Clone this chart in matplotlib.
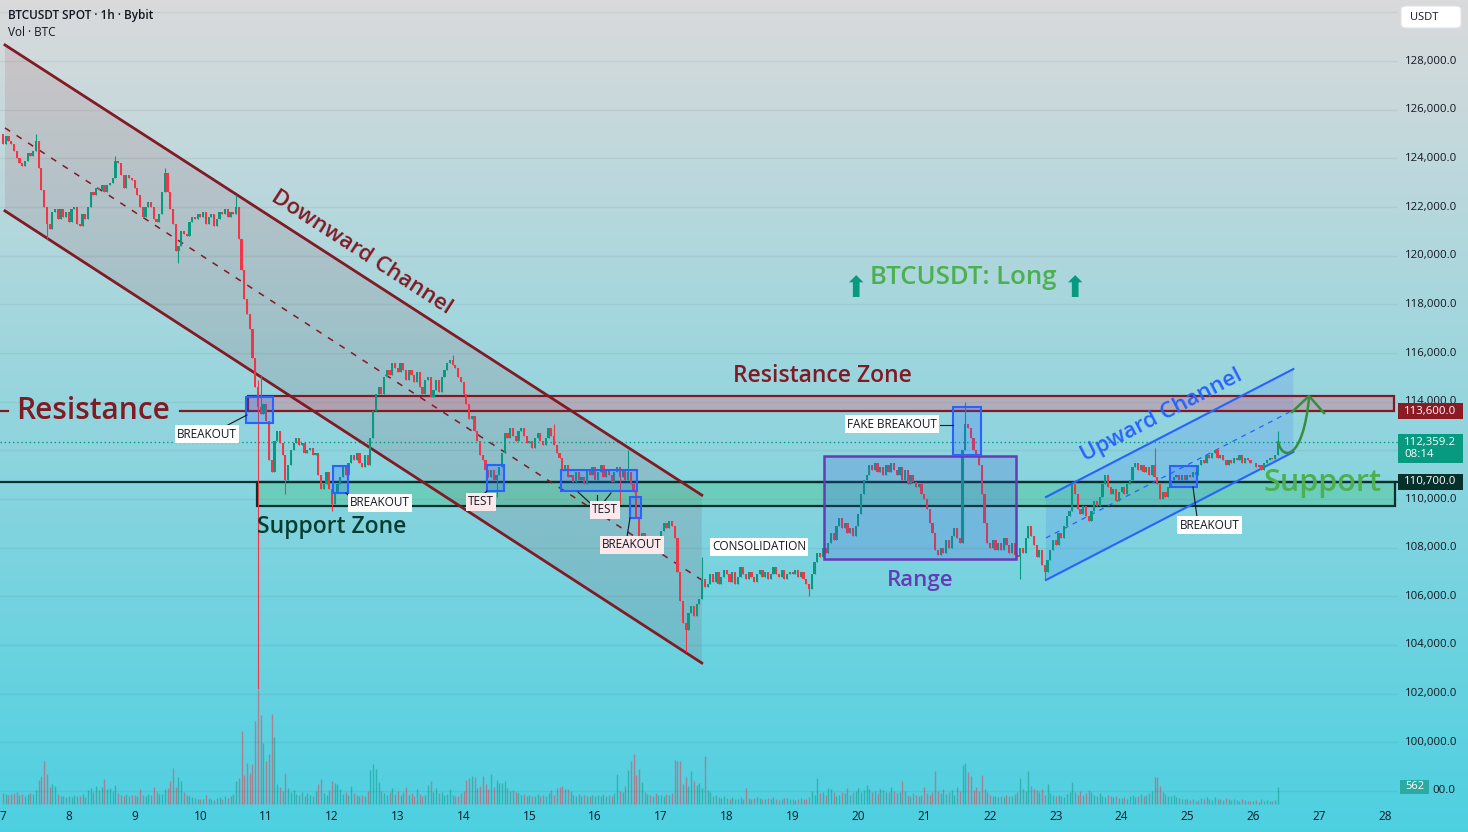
import numpy as np
import matplotlib.pyplot as plt
import matplotlib.transforms as mtransforms
from matplotlib.patches import Rectangle, Polygon, PathPatch, FancyBboxPatch
from matplotlib.path import Path

plt.rcParams['font.family'] = ['Open Sans', 'DejaVu Sans']

# hourly closes (thousands USDT), one list per day, Aug 7 .. Aug 26
first_open = 125.0
aug07 = [124.6, 124.9, 124.7, 124.6, 124.3, 124.0, 123.8, 123.7, 123.9, 124.2, 124.1, 124.3,
         124.7, 123.6, 122.7, 122.0, 121.3, 121.1, 121.8, 121.9, 121.5, 121.9, 121.6, 121.8]
aug08 = [121.4, 121.9, 122.0, 121.3, 121.2, 121.7, 121.5, 122.0, 122.6, 122.5, 122.8, 122.7,
         122.9, 122.6, 122.9, 123.0, 123.2, 123.9, 123.8, 123.3, 122.8, 123.3, 123.2, 123.1]
aug09 = [122.8, 122.5, 122.0, 121.6, 122.0, 122.2, 122.0, 121.5, 121.4, 121.7, 122.6, 123.4,
         122.6, 121.9, 121.3, 120.2, 120.4, 121.0, 120.9, 120.8, 121.4, 121.6, 121.5, 121.7]
aug10 = [121.6, 121.8, 121.3, 121.6, 121.7, 121.2, 121.5, 121.8, 121.7, 121.9, 121.6, 121.8,
         121.7, 122.0, 120.7, 119.4, 118.2, 117.6, 117.0, 115.8, 114.6, 113.8, 113.5, 113.9]
aug11 = [113.2, 111.6, 111.1, 112.4, 112.8, 112.3, 111.8, 110.8, 111.4, 112.0, 112.3, 112.5,
         112.2, 112.3, 111.9, 112.0, 112.1, 111.8, 111.9, 111.0, 110.4, 110.6, 111.1, 110.4]
aug12 = [109.8, 110.3, 110.6, 110.9, 111.3, 111.0, 111.5, 111.8, 111.6, 111.9, 111.5, 111.3,
         111.8, 111.4, 112.5, 113.6, 114.3, 114.6, 114.3, 115.0, 115.3, 115.1, 115.6, 115.4]
aug13 = [115.2, 115.6, 115.3, 114.9, 115.3, 115.1, 114.8, 115.2, 114.6, 114.3, 114.9, 115.0,
         114.2, 114.5, 114.9, 114.4, 115.0, 115.3, 115.6, 115.7, 115.5, 115.4, 115.0, 114.8]
aug14 = [114.3, 113.9, 113.3, 113.4, 112.8, 112.4, 111.8, 111.6, 111.2, 110.9, 111.2, 110.8,
         111.0, 111.3, 111.9, 112.7, 112.5, 112.9, 112.6, 112.4, 112.8, 112.9, 112.6, 112.3]
aug15 = [112.4, 112.1, 112.5, 112.7, 112.4, 112.2, 112.5, 112.9, 112.6, 112.2, 111.9, 111.7,
         111.2, 111.4, 110.9, 111.0, 110.7, 111.1, 110.8, 110.9, 110.6, 111.2, 111.0, 111.3]
aug16 = [110.8, 111.1, 111.4, 110.9, 111.2, 111.0, 110.7, 111.1, 111.3, 110.9, 111.2, 110.8,
         111.1, 110.6, 110.3, 109.2, 108.4, 108.6, 108.1, 108.3, 107.9, 108.2, 108.0, 108.4]
aug17 = [108.7, 109.0, 108.8, 109.1, 108.9, 108.4, 107.0, 105.8, 104.9, 104.6, 105.3, 105.6,
         105.2, 105.7, 105.9, 106.7, 106.4, 106.5, 106.9, 106.6, 107.0, 106.5, 106.8, 107.1]
aug18 = [106.9, 106.6, 107.0, 106.5, 106.8, 107.2, 106.9, 106.7, 107.0, 106.8, 106.6, 106.9,
         107.1, 106.8, 107.0, 106.7, 106.9, 107.2, 106.9, 106.8, 107.1, 106.7, 106.9, 107.0]
aug19 = [106.9, 107.1, 106.8, 107.0, 106.7, 106.5, 106.3, 106.9, 107.4, 107.8, 107.6, 108.0,
         107.8, 108.2, 108.6, 108.3, 108.9, 109.2, 108.8, 109.0, 108.6, 108.8, 108.5, 108.9]
aug20 = [109.4, 110.2, 110.8, 111.0, 111.4, 111.2, 111.5, 111.1, 111.3, 111.0, 111.4, 111.1,
         111.5, 111.2, 111.0, 111.3, 110.8, 111.2, 110.6, 111.0, 110.7, 110.5, 110.6, 110.2]
aug21 = [110.0, 109.6, 109.0, 108.6, 107.9, 107.7, 108.0, 107.8, 108.3, 108.0, 108.5, 108.8,
         108.4, 108.2, 112.0, 113.1, 112.9, 112.5, 112.0, 111.8, 111.4, 110.2, 109.0, 108.2]
aug22 = [108.0, 108.3, 107.9, 108.2, 107.9, 108.4, 108.1, 107.8, 108.2, 107.7, 107.6, 108.0,
         107.8, 108.4, 108.9, 108.5, 108.1, 107.6, 107.9, 107.3, 107.0, 107.5, 107.9, 108.3]
aug23 = [108.1, 108.6, 108.4, 108.9, 109.3, 109.5, 110.6, 110.2, 109.6, 109.4, 109.7, 109.3,
         109.1, 109.5, 109.9, 109.7, 110.1, 110.6, 111.0, 110.5, 110.2, 110.4, 109.9, 110.3]
aug24 = [110.5, 110.2, 110.6, 110.8, 111.3, 111.5, 111.2, 111.4, 111.1, 111.3, 111.0, 111.4,
         110.9, 110.6, 110.0, 110.3, 110.1, 110.5, 110.8, 110.9, 111.0, 110.8, 111.0, 110.8]
aug25 = [111.0, 110.9, 111.1, 111.0, 111.4, 111.6, 111.5, 111.8, 111.7, 111.9, 112.0, 111.7,
         111.8, 111.6, 111.4, 111.6, 111.5, 111.7, 111.6, 111.8, 111.5, 111.7, 111.6, 111.5]
aug26 = [111.5, 111.3, 111.4, 111.2, 111.5, 111.6, 111.7, 111.65, 111.8, 112.3592]

# notable wicks (candle index -> thousands USDT)
wick_hi = {12: 125.0, 41: 124.1, 59: 123.6, 85: 122.5, 93: 114.9, 94: 115.1, 164: 115.9,
           201: 113.1, 228: 112.0, 255: 107.6, 351: 114.0, 420: 112.1, 465: 112.8}
wick_lo = {16: 120.7, 64: 119.7, 93: 102.2, 103: 110.2, 120: 109.5, 176: 110.3, 180: 110.1,
           225: 109.8, 249: 103.7, 294: 106.0, 371: 106.7, 380: 106.7}

# hourly volume (BTC)
vol07 = [360, 340, 300, 330, 350, 380, 300, 320, 280, 340, 360, 330, 450, 790, 920, 1420, 990, 570, 660, 600, 320, 250, 280, 230]
vol08 = [260, 220, 300, 250, 280, 330, 240, 450, 520, 380, 600, 470, 560, 820, 480, 520, 430, 630, 360, 300, 280, 320, 260, 300]
vol09 = [300, 280, 500, 310, 270, 330, 300, 560, 380, 320, 340, 480, 520, 760, 1180, 560, 880, 770, 400, 300, 260, 230, 200, 180]
vol10 = [180, 150, 300, 200, 160, 140, 190, 230, 170, 250, 210, 260, 330, 770, 850, 2400, 960, 1360, 1020, 1320, 2740, 3760, 2940, 2000]
vol11 = [1430, 1650, 2970, 2200, 660, 570, 420, 1010, 520, 380, 450, 330, 300, 410, 280, 350, 300, 260, 420, 650, 830, 370, 300, 450]
vol12 = [760, 700, 650, 480, 330, 380, 300, 600, 350, 290, 260, 310, 280, 420, 1130, 1320, 1160, 730, 420, 350, 300, 380, 520, 330]
vol13 = [420, 310, 380, 560, 300, 350, 280, 500, 330, 260, 300, 630, 760, 400, 520, 350, 380, 300, 330, 480, 300, 250, 280, 360]
vol14 = [420, 800, 850, 920, 880, 520, 600, 920, 650, 480, 990, 550, 800, 700, 680, 750, 520, 430, 460, 380, 350, 300, 330, 280]
vol15 = [300, 250, 280, 330, 260, 300, 280, 350, 450, 300, 520, 560, 600, 480, 500, 420, 300, 260, 330, 280, 300, 250, 260, 300]
vol16 = [280, 300, 250, 320, 260, 300, 280, 350, 990, 420, 380, 600, 1130, 1420, 1650, 950, 1160, 720, 400, 330, 300, 280, 350, 300]
vol17 = [300, 280, 330, 300, 350, 1450, 1430, 1420, 660, 880, 600, 1090, 750, 620, 700, 520, 1600, 450, 380, 250, 300, 230, 200, 260]
vol18 = [200, 180, 230, 150, 170, 220, 180, 540, 200, 160, 190, 230, 210, 170, 150, 200, 180, 220, 160, 140, 170, 210, 190, 150]
vol19 = [160, 140, 180, 200, 150, 170, 230, 430, 300, 860, 350, 400, 300, 520, 500, 380, 260, 300, 400, 350, 520, 300, 380, 430]
vol20 = [520, 400, 450, 620, 480, 380, 420, 350, 500, 450, 380, 400, 560, 430, 350, 400, 760, 420, 300, 280, 350, 300, 260, 300]
vol21 = [560, 350, 300, 380, 1090, 420, 360, 500, 330, 380, 450, 300, 560, 420, 1290, 1350, 1050, 920, 450, 560, 440, 960, 500, 400]
vol22 = [300, 250, 280, 220, 260, 230, 300, 280, 250, 330, 400, 850, 480, 430, 1090, 600, 500, 450, 380, 480, 300, 660, 350, 300]
vol23 = [280, 300, 250, 220, 330, 400, 730, 380, 300, 420, 300, 350, 460, 380, 300, 280, 350, 260, 220, 300, 250, 230, 280, 200]
vol24 = [200, 230, 180, 250, 300, 220, 260, 330, 280, 300, 350, 420, 890, 890, 600, 400, 330, 280, 250, 300, 230, 200, 180, 160]
vol25 = [150, 120, 180, 100, 140, 200, 160, 230, 180, 130, 220, 150, 170, 120, 200, 160, 140, 180, 130, 100, 150, 120, 90, 110]
vol26 = [100, 130, 80, 150, 100, 120, 90, 110, 140, 562]

# levels
resistance = 113600
resistance_top = 114250
support = 110700
support_bottom = 109700
last_price = 112359.2

closes = np.array(aug07 + aug08 + aug09 + aug10 + aug11 + aug12 + aug13 + aug14 + aug15 + aug16
                  + aug17 + aug18 + aug19 + aug20 + aug21 + aug22 + aug23 + aug24 + aug25 + aug26) * 1000
opens = np.concatenate([[first_open * 1000], closes[:-1]])
highs = np.maximum(opens, closes)
lows = np.minimum(opens, closes)
for i, v in wick_hi.items():
    highs[i] = v * 1000
for i, v in wick_lo.items():
    lows[i] = v * 1000
volume = np.array(vol07 + vol08 + vol09 + vol10 + vol11 + vol12 + vol13 + vol14 + vol15 + vol16
                  + vol17 + vol18 + vol19 + vol20 + vol21 + vol22 + vol23 + vol24 + vol25 + vol26)
t = 7 + np.arange(len(closes)) / 24.0

W, H = 1468, 832
fig = plt.figure(figsize=(W / 100, H / 100), dpi=100)

# gradient background
bg = fig.add_axes([0, 0, 1, 1], zorder=-10)
c_top = np.array([218, 218, 219]) / 255
c_bot = np.array([77, 208, 225]) / 255
g = np.linspace(0, 1, 256)[:, None]
bg.imshow((c_top + (c_bot - c_top) * g)[:, None, :], aspect='auto', extent=[0, 1, 0, 1])
bg.axis('off')

ax_w = 1398 / W
vax = fig.add_axes([0, 0, ax_w, 1], zorder=1)
ax = fig.add_axes([0, 0, ax_w, 1], zorder=2)
for a in (vax, ax):
    a.patch.set_visible(False)
    a.set_axis_off()
X0, X1 = 7 - 3 / 65.8, 7 + 1395 / 65.8
ax.set_xlim(X0, X1)
ax.set_ylim(96315, 130507)
vax.set_xlim(X0, X1)
vax.set_ylim(-28 * 33, (H - 28) * 33)

GREEN, RED = '#089981', '#f23645'
DRED = '#801a24'
BLUE = '#2962ff'

# grid
for p in range(98000, 130001, 2000):
    ax.axhline(p, color='k', alpha=0.05, lw=1, zorder=0)

# volume
up = closes >= opens
vcol = np.where(up, GREEN, RED)
vax.vlines(t, 0, volume, colors=vcol, lw=1.0, alpha=0.5)

# downward channel
dc_x = [7.03, 17.62]
dc_up = [128660, 110160]
dc_lo = [121840, 103260]
dc_mid = [125250, 106670]
ax.add_patch(Polygon([(dc_x[0], dc_up[0]), (dc_x[1], dc_up[1]), (dc_x[1], dc_lo[1]), (dc_x[0], dc_lo[0])],
                     closed=True, fc=(0.55, 0.1, 0.15, 0.11), ec='none', zorder=1))
ax.plot(dc_x, dc_up, color=DRED, lw=2.0, zorder=3)
ax.plot(dc_x, dc_lo, color=DRED, lw=2.0, zorder=3)
ax.plot(dc_x, dc_mid, color=DRED, lw=1.1, ls=(0, (4, 5)), zorder=3)

# upward channel
uc_x = [22.85, 26.61]
uc_up = [110080, 115340]
uc_lo = [106670, 111930]
ax.add_patch(Polygon([(uc_x[0], uc_up[0]), (uc_x[1], uc_up[1]), (uc_x[1], uc_lo[1]), (uc_x[0], uc_lo[0])],
                     closed=True, fc=(0.16, 0.38, 1.0, 0.14), ec='none', zorder=1))
ax.plot(uc_x, uc_up, color=BLUE, lw=1.5, zorder=3)
ax.plot(uc_x, uc_lo, color=BLUE, lw=1.5, zorder=3)
ax.plot([22.85, 26.55], [108400, 113570], color=BLUE, lw=0.9, ls=(0, (4, 4)), zorder=3)

# zones
ax.add_patch(Rectangle((10.72, resistance), 28.14 - 10.72, resistance_top - resistance,
                       fc=(0.85, 0.45, 0.55, 0.4), ec=DRED, lw=1.6, zorder=2))
ax.add_patch(Rectangle((10.86, support_bottom), 28.155 - 10.86, support - support_bottom,
                       fc=(0.2, 0.75, 0.45, 0.3), ec='#06302a', lw=1.6, zorder=2))
ax.plot([X0, 7.08], [resistance] * 2, color=DRED, lw=1.6, zorder=2)
ax.plot([9.69, 10.72], [resistance] * 2, color=DRED, lw=1.6, zorder=2)
ax.axhline(support, color='#06302a', lw=1.6, zorder=2)
ax.axhline(last_price, color=GREEN, lw=1, ls=(0, (1, 2)), zorder=2)

# candles
ax.vlines(t, lows, highs, colors=vcol, lw=0.8, zorder=4)
ax.bar(t, closes - opens, bottom=opens, width=0.8 / 24, color=vcol, lw=0, zorder=4)

# boxes over candles
ax.add_patch(Rectangle((19.48, 107540), 22.395 - 19.48, 111770 - 107540,
                       fc=(0.25, 0.35, 0.85, 0.22), ec='#673ab7', lw=1.8, zorder=5))
boxes = [(10.69, 113120, 0.41, 1070), (12.015, 110250, 0.228, 1110), (14.356, 110330, 0.258, 1070),
         (15.48, 110330, 1.155, 860), (16.529, 109220, 0.167, 860), (24.736, 110490, 0.41, 860),
         (21.44, 111810, 0.423, 1970)]
for bx, by, bw, bh in boxes:
    ax.add_patch(Rectangle((bx, by), bw, bh, fc=(0.16, 0.38, 1.0, 0.22), ec=BLUE, lw=1.5, zorder=5))

# leader lines
leaders = [((10.359, 112959), (10.708, 113452)), ((12.213, 110247), (12.289, 110041)),
           ((14.356, 110329), (14.295, 110164)), ((15.739, 110288), (15.921, 109836)),
           ((16.027, 110164), (16.027, 109836)), ((16.24, 110247), (16.119, 109836)),
           ((16.529, 109219), (16.483, 108438)), ((21.24, 113041), (21.438, 113041)),
           ((25.085, 110493), (25.146, 109260))]
for (xa, ya), (xb, yb) in leaders:
    ax.plot([xa, xb], [ya, yb], color='#131722', lw=0.8, zorder=6)

PINK = '#fde8eb'
labels = [("BREAKOUT", 10.10, 112670, 'white'), ("BREAKOUT", 12.73, 109840, 'white'),
          ("TEST", 14.264, 109880, PINK), ("TEST", 16.149, 109550, PINK),
          ("BREAKOUT", 16.56, 108110, PINK), ("CONSOLIDATION", 18.49, 108030, 'white'),
          ("FAKE BREAKOUT", 20.51, 113080, 'white'), ("BREAKOUT", 25.34, 108930, 'white')]
for s, lx, ly, fc in labels:
    ax.text(lx, ly, s, fontsize=8.5, color='#131722', ha='center', va='center', zorder=7,
            bbox=dict(boxstyle='square,pad=0.2', fc=fc, ec='none'))

# big annotations
big = dict(ha='center', va='center', zorder=7, weight='semibold')
ax.text(8.368, resistance, "Resistance", fontsize=21.5, color=DRED, **big)
ax.text(19.447, 115055, "Resistance Zone", fontsize=16.5, color=DRED, **big)
ax.text(12.456, 120110, "Downward Channel", fontsize=16, color=DRED,
        rotation=-32.85, rotation_mode='anchor', **big)
ax.text(12.0, 108850, "Support Zone", fontsize=16.5, color='#063d30', **big)
ax.text(20.94, 106670, "Range", fontsize=16, color='#673ab7', **big)
ax.text(24.61, 113450, "Upward Channel", fontsize=16, color=BLUE,
        rotation=27.4, rotation_mode='anchor', **big)
ax.text(27.06, 110660, "Support", fontsize=22, color='#4caf50', **big)
ax.text(21.59, 119120, "BTCUSDT: Long", fontsize=18.5, color='#4caf50', **big)
for axx in (19.95, 23.28):
    ax.text(axx, 118630, "\u2B06", fontsize=21, color=GREEN, ha='center', va='center',
            family='DejaVu Sans', zorder=7)

# projected path arrow
arrow = Path([(26.377, 112384), (26.438, 111521), (26.757, 111603), (26.848, 114151)],
             [Path.MOVETO, Path.CURVE4, Path.CURVE4, Path.CURVE4])
ax.add_patch(PathPatch(arrow, fc='none', ec='#388e3c', lw=1.8, zorder=7))
ax.plot([26.59, 26.848, 27.076], [113576, 114233, 113534], color='#388e3c', lw=1.8, zorder=7)

# header
fig.text(8 / W, 1 - 16 / H, "BTCUSDT SPOT \u00b7 1h \u00b7 Bybit", fontsize=8.5, weight='semibold',
         color='#131722', va='center')
fig.text(8 / W, 1 - 33 / H, "Vol \u00b7 BTC", fontsize=8.5, color='#131722', va='center')

# price scale (112,000 sits under the last-price tag, as in the source)
pt = mtransforms.blended_transform_factory(fig.transFigure, ax.transData)
for p in range(100000, 128001, 2000):
    if p == 112000:
        continue
    ax.text(1405 / W, p, f"{p:,.1f}", transform=pt, fontsize=8.2, color='#131722',
            ha='left', va='center', clip_on=False, zorder=8)
# lowest tick is mostly hidden behind the volume tag
ax.text(1432 / W, 98000, "00.0", transform=pt, fontsize=8.2, color='#131722',
        ha='left', va='center', clip_on=False, zorder=8)


def axis_tag(price, text, fc, h=660):
    ax.add_patch(Rectangle((1398 / W, price - h / 2), 65 / W, h, transform=pt, fc=fc, ec='none',
                           clip_on=False, zorder=9))
    ax.text(1404 / W, price, text, transform=pt, fontsize=8.2, color='white', ha='left', va='center',
            clip_on=False, zorder=10)


axis_tag(resistance, f"{resistance:,.1f}", '#8b1a24')
axis_tag(support, f"{support:,.1f}", '#06302a')
ax.add_patch(Rectangle((1398 / W, last_price - 900), 65 / W, 1230, transform=pt, fc=GREEN, ec='none',
                       clip_on=False, zorder=9))
ax.text(1404 / W, last_price - 300, f"{last_price:,.1f}\n08:14", transform=pt, fontsize=8.2,
        color='white', ha='left', va='center', linespacing=1.15, clip_on=False, zorder=10)

vt = mtransforms.blended_transform_factory(fig.transFigure, vax.transData)
vax.add_patch(Rectangle((1400 / W, volume[-1] - 230), 29 / W, 460, transform=vt, fc='#26a69a',
                        ec='none', alpha=0.9, clip_on=False, zorder=9))
vax.text(1414.5 / W, volume[-1], f"{volume[-1]}", transform=vt, fontsize=8, color='white',
         ha='center', va='center', clip_on=False, zorder=10)

fig.patches.append(FancyBboxPatch((1401 / W, 1 - 28 / H), 60 / W, 22 / H, boxstyle='round,pad=0,rounding_size=0.004',
                                  transform=fig.transFigure, fc='white', ec='#e0e3eb', lw=0.8))
fig.text(1410 / W, 1 - 17 / H, "USDT", fontsize=8, color='#131722', va='center')

# time scale
tt = mtransforms.blended_transform_factory(ax.transData, fig.transFigure)
for d in range(7, 29):
    ax.text(d, 1 - 817 / H, str(d), transform=tt, fontsize=8.5, color='#131722',
            ha='center', va='center', clip_on=False)

fig.savefig('out.png', dpi=100)
